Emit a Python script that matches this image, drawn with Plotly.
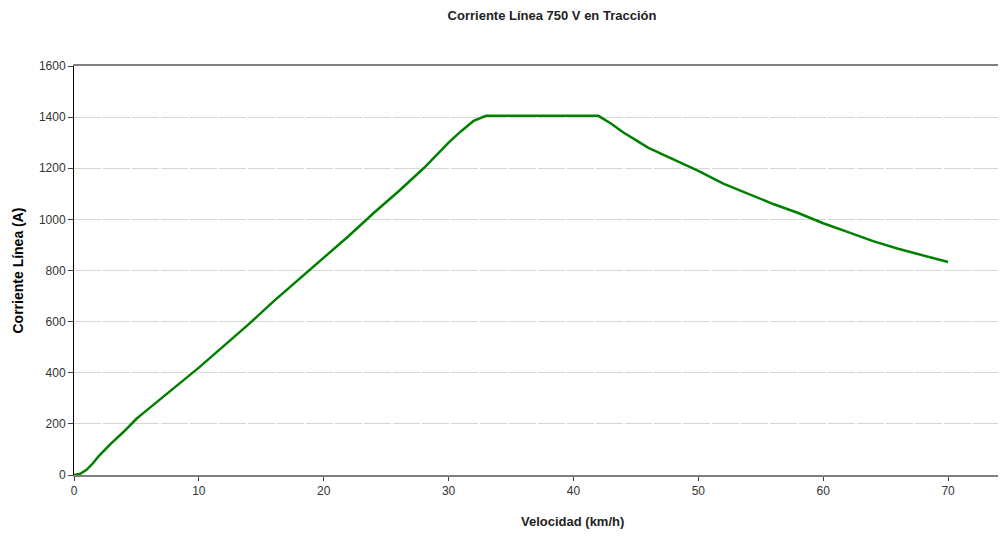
import plotly.graph_objects as go

speed_kmh = [0, 0.5, 1, 1.5, 2, 3, 4, 5, 5.5, 6, 8, 10, 12, 14, 16, 18, 20, 22, 24, 26, 28,
             30, 31, 32, 33, 42, 43, 44, 45, 46, 48, 50, 52, 54, 56, 58, 60, 62, 64, 66, 68, 70]
current_a = [0, 5, 20, 45, 75, 125, 170, 220, 240, 260, 340, 420, 505, 590, 680, 765, 850, 935,
             1025, 1110, 1200, 1300, 1345, 1385, 1405, 1405, 1375, 1340, 1310, 1280, 1235, 1190,
             1140, 1100, 1060, 1025, 985, 950, 915, 885, 860, 833]

title_text = "Corriente Línea 750 V en Tracción"
x_title = "Velocidad (km/h)"
y_title = "Corriente Línea (A)"

fig = go.Figure()
fig.add_trace(go.Scatter(x=speed_kmh, y=current_a, mode="lines",
                         line=dict(color="#008000", width=2.5), showlegend=False))

font_family = "Liberation Sans, Arial, sans-serif"
fig.update_layout(
    width=1000, height=536,
    margin=dict(l=74, r=2, t=66, b=61),
    paper_bgcolor="white", plot_bgcolor="white",
    font=dict(family=font_family, size=12, color="#333333"),
    title=dict(text=f"<b>{title_text}</b>", x=0.552, xanchor="center", y=0.972, yanchor="middle",
               font=dict(size=13, color="#222222")),
    xaxis=dict(range=[0, 74], dtick=10, tick0=0, showgrid=False, showline=True,
               linecolor="#808080", linewidth=1.5, mirror=True, ticks="outside", ticklen=4,
               tickcolor="#404040", zeroline=False, tickfont=dict(size=12, color="#333333")),
    yaxis=dict(range=[0, 1600], dtick=200, tick0=0, showgrid=True, gridcolor="#d6d6d6",
               griddash="27px,2px", gridwidth=1, showline=True, linecolor="#000000", linewidth=1,
               ticks="outside", ticklen=5, tickcolor="#404040", zeroline=False,
               tickfont=dict(size=12, color="#333333"),
               title=dict(text=f"<b>{y_title}</b>", font=dict(size=14, color="#000000"), standoff=11)),
    annotations=[dict(text=f"<b>{x_title}</b>", xref="paper", yref="paper", x=0.539, y=0,
                      yshift=-46, xanchor="center", yanchor="middle", showarrow=False,
                      font=dict(size=13, color="#222222"))],
)

fig.write_html("out.html", config={"displayModeBar": False},
               post_script="document.body.style.margin='0';document.body.style.overflow='hidden';")
